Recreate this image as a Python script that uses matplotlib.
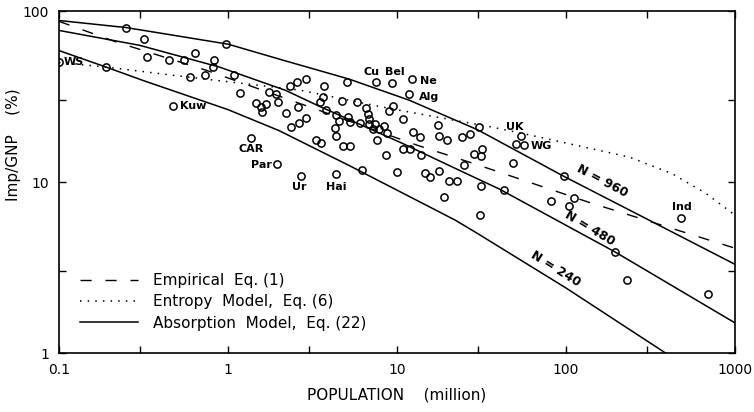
import matplotlib as mpl
mpl.use('Agg')
import matplotlib.pyplot as plt
from matplotlib.ticker import FixedLocator, NullFormatter

# countries: population (million) against imports as % of GNP
pop = [0.10, 0.19, 0.25, 0.32, 0.33, 0.45, 0.55, 0.64, 0.83, 0.82,
	0.60, 0.73, 0.47, 0.98, 1.09, 1.18, 1.36, 1.95, 1.47, 1.58,
	1.57, 1.69, 1.75, 1.93, 1.99, 2.34, 2.55, 2.88, 3.69, 2.19,
	2.59, 2.90, 2.62, 2.35, 3.48, 3.65, 3.78, 4.74, 4.36, 4.51,
	4.27, 4.33, 5.09, 5.16, 3.32, 3.55, 4.79, 5.27, 7.53, 9.35,
	12.3, 11.7, 5.81, 9.52, 8.93, 6.57, 6.71, 10.8, 17.5, 30.4,
	5.24, 6.05, 6.81, 6.81, 7.45, 7.25, 7.80, 8.42, 8.69, 7.59,
	8.62, 10.8, 12.0, 13.9, 12.5, 13.7, 17.8, 19.7, 24.2, 27.1,
	31.8, 28.7, 31.6, 25.0, 17.8, 14.7, 15.7, 20.3, 22.5, 10.0,
	6.22, 31.4, 19.0, 30.9, 2.69, 4.37, 54.1, 50.7, 56.2, 48.3,
	96.8, 42.7, 112, 82, 104, 482, 195, 231, 688]
imp = [50, 47, 80, 69, 54, 52, 52, 57, 52, 47,
	41, 42, 28, 64, 42, 33, 18.1, 12.7, 29, 25.7,
	27.4, 28.7, 33.4, 32.5, 29.3, 36.4, 38.2, 40.1, 36.3, 25.3,
	27.5, 23.7, 22.0, 20.9, 29.2, 31.3, 26.2, 29.8, 24.8, 22.6,
	20.8, 18.6, 38.4, 23.9, 17.5, 16.8, 16.2, 16.2, 38.4, 37.8,
	40.1, 32.8, 29.3, 27.7, 25.9, 27.2, 25.1, 23.4, 21.6, 21.1,
	22.3, 22.1, 23.4, 21.9, 21.7, 20.5, 20.5, 21.4, 19.3, 17.7,
	14.3, 15.5, 15.5, 14.3, 19.6, 18.3, 18.6, 17.5, 18.4, 19.2,
	15.7, 14.6, 14.2, 12.6, 11.6, 11.3, 10.7, 10.1, 10.2, 11.4,
	11.8, 9.5, 8.2, 6.4, 10.8, 11.2, 18.6, 16.6, 16.4, 13.0,
	10.8, 9.0, 8.1, 7.7, 7.2, 6.2, 3.9, 2.67, 2.21]

country_tags = ['WS', 'Kuw', 'CAR', 'Par', 'Ur', 'Hai', 'Cu', 'Bel', 'Ne', 'Alg', 'UK', 'WG', 'Ind']

# empirical eq. (1)
emp_x = [0.1, 0.22, 0.75, 13.2, 30, 137, 1000]
emp_y = [87, 65.7, 44.9, 16.4, 12.6, 7.6, 4.1]

# entropy model eq. (6)
ent_x = [0.1, 0.19, 0.59, 2.64, 8.9, 36, 63, 236, 424, 670, 1000]
ent_y = [50, 47, 41, 34.5, 27, 21, 18.7, 14.0, 11.2, 8.6, 6.4]

# absorption model eq. (22), N = 960, 480, 240
n960_x = [0.1, 0.25, 1, 2.2, 5.2, 11.8, 30, 97, 1000]
n960_y = [88, 80, 64, 51, 40, 30.1, 20.2, 10.8, 3.3]
n480_x = [0.1, 0.3, 0.89, 2.2, 3.48, 10.8, 23.4, 40.3, 195, 1000]
n480_y = [77, 63, 47, 34.3, 27.7, 16.8, 11.7, 9.1, 3.9, 1.5]
n240_x = [0.1, 0.19, 0.32, 1, 2, 5.2, 22, 29, 100, 388]
n240_y = [58.7, 47, 39, 26.5, 20, 12.5, 6.0, 5.1, 2.4, 1.0]
n_tags = ['N = 960', 'N = 480', 'N = 240']

plt.rcParams['font.family'] = ['DejaVu Sans']
fig = plt.figure(figsize=(7.54, 4.12), dpi=100)
ax = fig.add_axes([0.0782, 0.1432, 0.8966, 0.8301])

ax.plot(emp_x, emp_y, color='black', lw=1.0, dashes=(8, 10), label='Empirical  Eq. (1)')
ax.plot(ent_x, ent_y, color='black', lw=1.1, dashes=(1, 4), label='Entropy  Model,  Eq. (6)')
ax.plot(n960_x, n960_y, color='black', lw=1.1, label='Absorption  Model,  Eq. (22)')
ax.plot(n480_x, n480_y, color='black', lw=1.1)
ax.plot(n240_x, n240_y, color='black', lw=1.1)
ax.plot(pop, imp, 'o', ms=5.2, mfc='none', mec='black', mew=1.1)

ax.set_xscale('log')
ax.set_yscale('log')
ax.set_xlim(0.1, 1000)
ax.set_ylim(1, 100)

ax.xaxis.set_major_locator(FixedLocator([0.1, 1, 10, 100, 1000]))
ax.xaxis.set_minor_locator(FixedLocator([0.3, 3, 30, 300]))
ax.yaxis.set_major_locator(FixedLocator([1, 10, 100]))
ax.yaxis.set_minor_locator(FixedLocator([3, 30]))
ax.xaxis.set_minor_formatter(NullFormatter())
ax.yaxis.set_minor_formatter(NullFormatter())
ax.set_xticklabels(['0.1', '1', '10', '100', '1000'])
ax.set_yticklabels(['1', '10', '100'])
ax.tick_params(which='both', direction='in', top=True, right=True, length=5, width=1, labelsize=10, pad=7)
for s in ax.spines.values():
	s.set_linewidth(1.2)

ax.set_xlabel('POPULATION    (million)', fontsize=11)
ax.set_ylabel('Imp/GNP    (%)', fontsize=11)
ax.xaxis.set_label_coords(0.5, -0.1)
ax.yaxis.set_label_coords(-0.056, 0.61)

# country names next to their points
tag_pos = [(0.107, 50), (0.52, 27.7), (1.38, 15.5), (1.81, 12.5), (2.65, 9.3), (4.38, 9.4),
	(7.06, 43.7), (9.65, 43.7), (13.6, 39.2), (13.4, 31.6), (50, 21.1), (61.4, 16.2), (485, 7.1)]
tag_ha = ['left', 'left', 'center', 'right', 'center', 'center', 'center', 'center',
	'left', 'left', 'center', 'left', 'center']
for t, p, h in zip(country_tags, tag_pos, tag_ha):
	ax.text(p[0], p[1], t, ha=h, va='center', fontsize=8, fontweight='bold')

n_pos = [(165, 10.1), (139, 5.37), (87, 3.09)]
n_rot = [-28, -31, -32]
for t, p, r in zip(n_tags, n_pos, n_rot):
	ax.text(p[0], p[1], t, ha='center', va='center', rotation=r, fontsize=9, fontweight='bold')

ax.legend(loc='lower left', bbox_to_anchor=(0.031, 0.065), frameon=False, fontsize=11,
	handlelength=3.8, handletextpad=1.0, labelspacing=0.42, borderpad=0, borderaxespad=0)

plt.savefig('out.png', dpi=100)
plt.close()
